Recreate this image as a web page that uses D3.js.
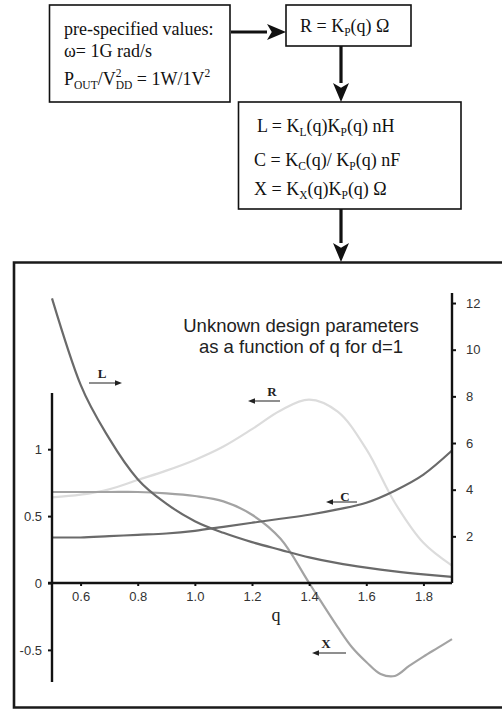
<!DOCTYPE html>
<html><head><meta charset="utf-8">
<script src="https://cdn.jsdelivr.net/npm/d3@7"></script>
<style>body{margin:0;background:#fff}svg{display:block}</style>
</head><body>
<svg id="c" width="502" height="711"></svg>
<script>
// ---- data ----
const qValues = [0.5,0.6,0.7,0.8,0.9,1.0,1.1,1.2,1.3,1.4,1.5,1.6,1.7,1.8,1.9];
const L_values = [12.2,8.5,6.2,4.45,3.4,2.65,2.15,1.75,1.42,1.1,0.85,0.66,0.5,0.37,0.26]; // right axis
const R_values = [0.64,0.66,0.70,0.77,0.84,0.92,1.02,1.15,1.29,1.37,1.28,1.0,0.60,0.30,0.13]; // left axis
const C_values = [0.34,0.34,0.35,0.36,0.37,0.39,0.42,0.45,0.48,0.51,0.55,0.60,0.69,0.81,0.99]; // left axis
const qX = [0.5,0.6,0.7,0.8,0.9,1.0,1.1,1.2,1.3,1.4,1.5,1.55,1.6,1.65,1.7,1.75,1.8,1.85,1.9];
const X_values = [0.68,0.68,0.68,0.68,0.67,0.65,0.61,0.51,0.33,0.0,-0.33,-0.48,-0.59,-0.68,-0.695,-0.62,-0.55,-0.485,-0.42]; // left axis
const xTicks = [0.6,0.8,1.0,1.2,1.4,1.6,1.8];
const xTickLabels = ["0.6","0.8","1.0","1.2","1.4","1.6","1.8"];
const leftTicks = [-0.5,0,0.5,1];
const leftTickLabels = ["-0.5","0","0.5","1"];
const rightTicks = [2,4,6,8,10,12];
const rightTickLabels = ["2","4","6","8","10","12"];
const titleLines = ["Unknown design parameters","as a function of q for d=1"];

const svg = d3.select("#c");
const serif = "'Liberation Serif','Times New Roman',serif";
const sans = "'Liberation Sans',Arial,sans-serif";
const FS = 18, SS = 11.5;

// ---- flowchart ----
const box = (x,y,w,h)=>svg.append("rect").attr("x",x).attr("y",y).attr("width",w).attr("height",h)
  .attr("fill","none").attr("stroke","#111").attr("stroke-width",1.6);
box(49.5,5,180.5,97);
box(286,5,125,41);
box(238.5,102,222.5,107);

function rich(x,y,parts){
  const t = svg.append("text").attr("x",x).attr("y",y).attr("font-family",serif).attr("font-size",FS).attr("fill","#111");
  let cur = 0;
  parts.forEach(p=>{
    if(p.stack){
      const a = t.append("tspan").attr("font-size",SS).attr("dy",-8-cur).text(p.stack[0]);
      const w = a.node().getComputedTextLength();
      t.append("tspan").attr("font-size",SS).attr("dx",-w).attr("dy",12).text(p.stack[1]);
      cur = 4;
      return;
    }
    let target = p.sub?4:(p.sup?-8:0);
    const s = t.append("tspan").text(p.t).attr("dy",target-cur);
    if(p.sub||p.sup) s.attr("font-size",SS);
    cur = target;
  });
  return t;
}
rich(64,35,[{t:"pre-specified values:"}]);
rich(64,57,[{t:"ω= 1G rad/s"}]);
rich(64,85,[{t:"P"},{t:"OUT",sub:true},{t:"/V"},{stack:["2","DD"]},{t:" = 1W/1V"},{t:"2",sup:true}]);
rich(300,32,[{t:"R = K"},{t:"P",sub:true},{t:"(q)  Ω"}]);
rich(257,132,[{t:"L = K"},{t:"L",sub:true},{t:"(q)K"},{t:"P",sub:true},{t:"(q) nH"}]);
rich(254,166,[{t:"C = K"},{t:"C",sub:true},{t:"(q)/ K"},{t:"P",sub:true},{t:"(q) nF"}]);
rich(254,195,[{t:"X = K"},{t:"X",sub:true},{t:"(q)K"},{t:"P",sub:true},{t:"(q)  Ω"}]);

function bigArrow(x1,y1,x2,y2){
  const ang = Math.atan2(y2-y1,x2-x1), len=19, hw=8;
  const bx = x2 - len*Math.cos(ang), by = y2 - len*Math.sin(ang);
  svg.append("line").attr("x1",x1).attr("y1",y1).attr("x2",bx).attr("y2",by).attr("stroke","#111").attr("stroke-width",3.2);
  const px = -Math.sin(ang)*hw, py = Math.cos(ang)*hw;
  svg.append("path").attr("d",`M${x2},${y2}L${bx+px},${by+py}L${bx+len*0.25*Math.cos(ang)},${by+len*0.25*Math.sin(ang)}L${bx-px},${by-py}Z`).attr("fill","#111");
}
bigArrow(231,32,286,32);
bigArrow(341,46,341,102);
bigArrow(341,209,341,262);

// ---- chart frame ----
svg.append("path").attr("d","M520,262.5H14V707.5H520").attr("fill","none").attr("stroke","#1a1a1a").attr("stroke-width",2.6);

const x = d3.scaleLinear().domain([0.5,1.9]).range([52,452]);
const yL = d3.scaleLinear().domain([-0.74,1.42]).range([682,393]);
const yR = d3.scaleLinear().domain([0,12.43]).range([583,293]);

const series = [
  {q:qValues, vals:R_values, scale:yL, color:"#dcdcdc", curve:d3.curveCatmullRom.alpha(0.5)},
  {q:qX, vals:X_values, scale:yL, color:"#a3a3a3", curve:d3.curveCatmullRom.alpha(0.5)},
  {q:qValues, vals:C_values, scale:yL, color:"#6a6a6a", curve:d3.curveMonotoneX},
  {q:qValues, vals:L_values, scale:yR, color:"#6a6a6a", curve:d3.curveMonotoneX}
];
series.forEach(s=>{
  const line = d3.line().x((d,i)=>x(s.q[i])).y(d=>s.scale(d)).curve(s.curve);
  svg.append("path").datum(s.vals).attr("d",line).attr("fill","none").attr("stroke",s.color).attr("stroke-width",2.2);
});

const gx = svg.append("g").attr("transform",`translate(0,${yL(0)})`)
  .call(d3.axisBottom(x).tickValues(xTicks).tickFormat((d,i)=>xTickLabels[i]).tickSize(3).tickPadding(6));
const gl = svg.append("g").attr("transform",`translate(${x(0.5)},0)`)
  .call(d3.axisLeft(yL).tickValues(leftTicks).tickFormat((d,i)=>leftTickLabels[i]).tickSize(4).tickPadding(6));
const gr = svg.append("g").attr("transform",`translate(${x(1.9)},0)`)
  .call(d3.axisRight(yR).tickValues(rightTicks).tickFormat((d,i)=>rightTickLabels[i]).tickSize(4).tickPadding(10));
[gx,gl,gr].forEach(g=>{
  g.select(".domain").attr("stroke","#111").attr("stroke-width",2.4);
  g.selectAll(".tick line").attr("stroke","#111").attr("stroke-width",2);
  g.selectAll(".tick text").attr("font-family",sans).attr("font-size",13).attr("fill","#333");
});
gl.select(".domain").attr("d",`M0,${yL.range()[0]}V${yL.range()[1]}`);
gr.select(".domain").attr("d",`M0,${yR.range()[0]}V${yR.range()[1]}`);
gx.select(".domain").attr("d",`M${x(0.5)-4},0H${x(1.9)}`);

svg.append("text").attr("x",276).attr("y",621).attr("text-anchor","middle").attr("font-family",serif).attr("font-size",18).attr("fill","#222").text("q");

titleLines.forEach((t,i)=>svg.append("text").attr("x",301).attr("y",332+i*21).attr("text-anchor","middle")
  .attr("font-family",sans).attr("font-size",18.5).attr("fill","#222").text(t));

function smallArrow(x1,x2,y,label,lx,ly){
  const dir = Math.sign(x2-x1);
  svg.append("line").attr("x1",x1).attr("y1",y).attr("x2",x2-dir*6).attr("y2",y).attr("stroke","#333").attr("stroke-width",1.1);
  svg.append("path").attr("d",`M${x2},${y}L${x2-dir*7},${y-2.8}L${x2-dir*7},${y+2.8}Z`).attr("fill","#222");
  svg.append("text").attr("x",lx).attr("y",ly).attr("text-anchor","middle").attr("font-family",serif)
    .attr("font-weight","bold").attr("font-size",13).attr("fill","#222").text(label);
}
smallArrow(89,122,383,"L",102,378);
smallArrow(280,248,401,"R",272,396);
smallArrow(357,326,502,"C",345,501);
smallArrow(346,312,653,"X",326,648);
</script>
</body></html>
